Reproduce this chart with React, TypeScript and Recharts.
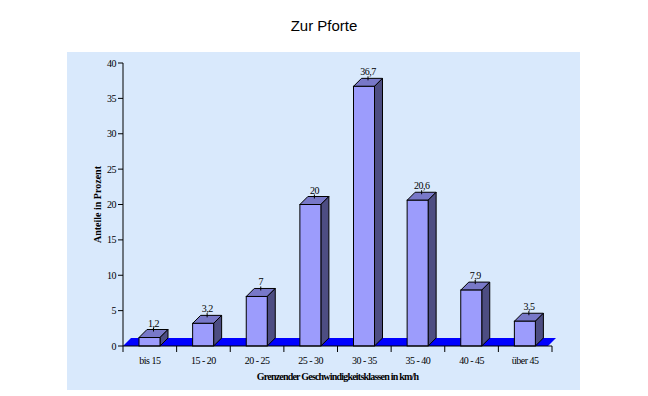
import { ComposedChart, Bar, XAxis, YAxis, LabelList, ReferenceArea } from "recharts";

const categories = ["bis 15", "15 - 20", "20 - 25", "25 - 30", "30 - 35", "35 - 40", "40 - 45", "über 45"];
const shares = [1.2, 3.2, 7, 20, 36.7, 20.6, 7.9, 3.5];
const yTicks = [0, 5, 10, 15, 20, 25, 30, 35, 40];

const data = categories.map((klasse, i) => ({ klasse, anteil: shares[i] }));

const DEPTH = 8;
const SERIF = "'Liberation Serif', 'DejaVu Serif', serif";

const fmt = (v: number) => String(v).replace(".", ",");

function Bar3D(props: any) {
  const { x, y, width: w, height: h } = props;
  const d = DEPTH;
  return (
    <g>
      <polygon
        points={`${x},${y} ${x + d},${y - d} ${x + w + d},${y - d} ${x + w},${y}`}
        fill="#7878c8"
        stroke="#000"
        strokeWidth={1}
      />
      <polygon
        points={`${x + w},${y} ${x + w + d},${y - d} ${x + w + d},${y + h - d} ${x + w},${y + h}`}
        fill="#4d4d82"
        stroke="#000"
        strokeWidth={1}
      />
      <rect x={x} y={y} width={w} height={h} fill="#9c9cfc" stroke="#000" strokeWidth={1} />
    </g>
  );
}

// blue "floor" under the bars
function Floor(props: any) {
  const { x, y, width } = props;
  const d = DEPTH;
  return (
    <polygon
      points={`${x},${y} ${x + d},${y - d} ${x + width + d - 4},${y - d} ${x + width - 4},${y}`}
      fill="#0000ff"
    />
  );
}

function ValueLabel(props: any) {
  const { x, y, width, value } = props;
  const cx = x + width / 2 + DEPTH / 2;
  const top = y - DEPTH;
  return (
    <g>
      <line x1={cx} y1={top - 2} x2={cx} y2={top + 2} stroke="#000" strokeWidth={1} />
      <text x={cx} y={top - 3} textAnchor="middle" fontFamily={SERIF} fontSize={10} letterSpacing={-0.5} fill="#000">
        {fmt(value)}
      </text>
    </g>
  );
}

function XTick(props: any) {
  const { x, y, payload, index, visibleTicksCount } = props;
  const off = payload.offset ?? 0;
  const last = index === visibleTicksCount - 1;
  return (
    <g>
      <line x1={x - off} y1={y - 6} x2={x - off} y2={y} stroke="#000" />
      {last && <line x1={x + off} y1={y - 6} x2={x + off} y2={y} stroke="#000" />}
      <text x={x} y={y + 12} textAnchor="middle" fontFamily={SERIF} fontSize={10} letterSpacing={-0.5} fill="#000">
        {payload.value}
      </text>
    </g>
  );
}

export default function App() {
  return (
    <div style={{ position: "absolute", left: 0, top: 0, width: 648, height: 396, background: "#fff" }}>
      <div style={{ position: "absolute", left: 67, top: 52, width: 513, height: 338, background: "#d9e9fc" }} />
      <div
        style={{
          position: "absolute",
          left: 0,
          top: 17,
          width: 648,
          textAlign: "center",
          fontFamily: "'Liberation Sans', Arial, sans-serif",
          fontSize: 15,
          color: "#000",
        }}
      >
        Zur Pforte
      </div>
      <div style={{ position: "absolute", left: 0, top: 0 }}>
        <ComposedChart width={648} height={396} data={data} margin={{ top: 63, right: 96, bottom: 20, left: 83 }}>
          <ReferenceArea x1="bis 15" x2="über 45" y1={0} y2={0} shape={<Floor />} ifOverflow="visible" />
          <XAxis
            dataKey="klasse"
            height={30}
            axisLine={{ stroke: "#000" }}
            tickLine={false}
            tickSize={6}
            tickMargin={0}
            interval={0}
            tick={<XTick />}
            label={{
              content: ({ viewBox }: any) => (
                <text
                  x={viewBox.x + viewBox.width / 2}
                  y={380}
                  textAnchor="middle"
                  fontFamily={SERIF}
                  fontSize={10}
                  fontWeight="bold"
                  letterSpacing={-0.8}
                  fill="#000"
                >
                  Grenzender Geschwindigkeitsklassen in km/h
                </text>
              ),
            }}
          />
          <YAxis
            width={40}
            domain={[0, 40]}
            ticks={yTicks}
            interval={0}
            axisLine={{ stroke: "#000" }}
            tickLine={{ stroke: "#000" }}
            tickSize={5}
            tickMargin={2}
            tick={{ fontFamily: SERIF, fontSize: 10, fill: "#000", letterSpacing: -0.5 }}
            label={{
              content: ({ viewBox }: any) => {
                const lx = 101;
                const ly = viewBox.y + viewBox.height / 2;
                return (
                  <text
                    x={lx}
                    y={ly}
                    transform={`rotate(-90 ${lx} ${ly})`}
                    textAnchor="middle"
                    fontFamily={SERIF}
                    fontSize={10}
                    fontWeight="bold"
                    fill="#000"
                  >
                    Anteile in Prozent
                  </text>
                );
              },
            }}
          />
          <Bar dataKey="anteil" barSize={21} shape={<Bar3D />} isAnimationActive={false}>
            <LabelList dataKey="anteil" content={<ValueLabel />} />
          </Bar>
        </ComposedChart>
      </div>
    </div>
  );
}
